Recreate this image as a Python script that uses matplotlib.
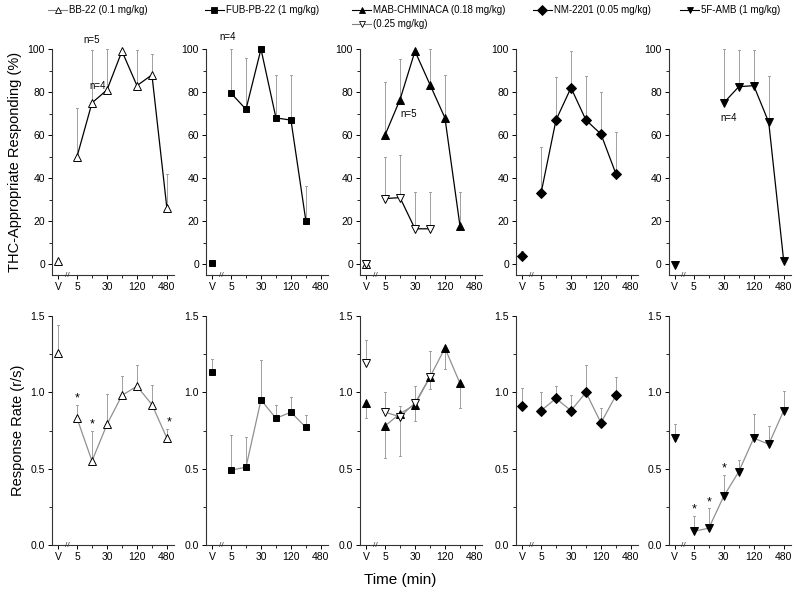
import matplotlib
matplotlib.use("Agg")
import matplotlib.pyplot as plt
from matplotlib.lines import Line2D
import matplotlib.transforms as mtransforms
import numpy as np

plt.rcParams['font.family'] = ['Liberation Sans', 'DejaVu Sans']

# x position of each time point (V is set off by a break)
xpos = {'V': -1.27, 5: 0, 15: 1, 30: 2, 60: 3, 120: 4, 240: 5, 480: 6}

drugs = ['BB-22 (0.1 mg/kg)', 'FUB-PB-22 (1 mg/kg)', 'MAB-CHMINACA (0.18 mg/kg)',
         'NM-2201 (0.05 mg/kg)', '5F-AMB (1 mg/kg)']

# ---- THC-appropriate responding (%) ----
bb_t = ['V', 5, 15, 30, 60, 120, 240, 480]
bb_thc = [1.5, 50, 75, 81, 99, 83, 88, 26]
bb_thc_err = [0, 22.5, 24.5, 19, 0, 16.5, 9.5, 16]

fub_t = ['V', 5, 15, 30, 60, 120, 240]
fub_thc = [0.5, 79.5, 72, 100, 68, 67, 20]
fub_thc_err = [0, 20.5, 24, 0, 20, 21, 16.5]

mab_t = ['V', 5, 15, 30, 60, 120, 240]
mab_thc = [0, 60, 76.5, 99, 83.5, 68, 18]
mab_thc_err = [0, 24.5, 19, 0, 16.5, 20, 15.5]

mab2_t = ['V', 5, 15, 30, 60]
mab2_thc = [0, 30.5, 31, 16.5, 16.5]
mab2_thc_err = [0, 19.5, 20, 17, 17]

nm_t = ['V', 5, 15, 30, 60, 120, 240]
nm_thc = [4, 33, 67, 82, 67, 60.5, 42]
nm_thc_err = [2, 21.5, 20, 17, 20.5, 19.5, 19.5]

amb_thc_t = ['V', 30, 60, 120, 240, 480]
amb_thc = [-0.5, 75, 82.5, 83, 66, 1.5]
amb_thc_err = [0, 25, 17, 16.5, 21.5, 0]

# ---- response rate (r/s) ----
bb_rr = [1.26, 0.83, 0.55, 0.79, 0.98, 1.04, 0.92, 0.70]
bb_rr_err = [0.18, 0.09, 0.20, 0.20, 0.13, 0.14, 0.13, 0.06]
bb_star = [5, 15, 480]

fub_rr = [1.13, 0.49, 0.51, 0.95, 0.83, 0.87, 0.77]
fub_rr_err = [0.09, 0.23, 0.20, 0.26, 0.09, 0.10, 0.08]

mab_rr = [0.93, 0.78, 0.86, 0.92, 1.10, 1.29, 1.06]
mab_rr_err = [-0.10, -0.21, 0.05, -0.11, -0.08, -0.14, -0.16]

mab2_rr = [1.19, 0.87, 0.84, 0.93, 1.10]
mab2_rr_err = [0.15, 0.13, -0.26, 0.11, 0.17]

nm_rr = [0.91, 0.88, 0.96, 0.88, 1.00, 0.80, 0.98]
nm_rr_err = [0.12, 0.12, 0.08, 0.10, 0.18, 0.10, 0.12]

amb_rr_t = ['V', 5, 15, 30, 60, 120, 240, 480]
amb_rr = [0.70, 0.09, 0.11, 0.32, 0.48, 0.70, 0.66, 0.88]
amb_rr_err = [0.09, 0.10, 0.13, 0.14, 0.08, 0.16, 0.12, 0.13]
amb_star = [5, 15, 30]

top = [[(bb_t, bb_thc, bb_thc_err, '^', False)],
       [(fub_t, fub_thc, fub_thc_err, 's', True)],
       [(mab_t, mab_thc, mab_thc_err, '^', True), (mab2_t, mab2_thc, mab2_thc_err, 'v', False)],
       [(nm_t, nm_thc, nm_thc_err, 'D', True)],
       [(amb_thc_t, amb_thc, amb_thc_err, 'v', True)]]
bottom = [[(bb_t, bb_rr, bb_rr_err, '^', False)],
          [(fub_t, fub_rr, fub_rr_err, 's', True)],
          [(mab_t, mab_rr, mab_rr_err, '^', True), (mab2_t, mab2_rr, mab2_rr_err, 'v', False)],
          [(nm_t, nm_rr, nm_rr_err, 'D', True)],
          [(amb_rr_t, amb_rr, amb_rr_err, 'v', True)]]
stars = {0: (bb_star, bb_rr_err, bb_rr, bb_t), 4: (amb_star, amb_rr_err, amb_rr, amb_rr_t)}

n_labels = {0: [(1.0, 104, 'n=5'), (1.35, 83, 'n=4')], 1: [(-0.25, 105.5, 'n=4')],
            2: [(1.6, 70, 'n=5')], 4: [(2.3, 68, 'n=4')]}

msize = {'^': 6.0, 'v': 6.0, 's': 5.0, 'D': 5.5}

fig = plt.figure(figsize=(8, 5.98), dpi=100)
lefts = [0.065, 0.2575, 0.45, 0.645, 0.836]
w = 0.153
ecol = '#a0a0a0'


def draw(ax, series, linecol, first_v_open=False):
    for k, (t, y, e, m, fill) in enumerate(series):
        x = np.array([xpos[v] for v in t])
        y = np.array(y, dtype=float)
        e = np.array(e, dtype=float)
        fc = 'black' if fill else 'white'
        ms = msize[m]
        # error bars (one-sided)
        for xi, yi, ei in zip(x, y, e):
            if ei != 0:
                ax.plot([xi, xi], [yi, yi + ei], color=ecol, lw=0.7, zorder=1, clip_on=False)
                ax.plot([xi - 0.08, xi + 0.08], [yi + ei, yi + ei], color=ecol, lw=0.7, zorder=1, clip_on=False)
        ax.plot(x[1:], y[1:], color=linecol, lw=0.9, zorder=2, clip_on=False)
        ax.plot(x[1:], y[1:], ls='none', marker=m, ms=ms, mfc=fc, mec='black', mew=0.7,
                zorder=3, clip_on=False)
        vfc = 'white' if (first_v_open and k == 0) else fc
        ax.plot(x[:1], y[:1], ls='none', marker=m, ms=ms, mfc=vfc, mec='black', mew=0.7,
                zorder=3 + k, clip_on=False)


def style(ax):
    for s in ['top', 'right']:
        ax.spines[s].set_visible(False)
    for s in ['left', 'bottom']:
        ax.spines[s].set_color('#333333')
        ax.spines[s].set_linewidth(0.8)
    ax.set_xlim(-1.67, 6.5)
    ax.set_xticks([xpos['V'], 0, 2, 4, 6])
    ax.set_xticklabels(['V', '5', '30', '120', '480'])
    ax.set_xticks([1, 3, 5], minor=True)
    ax.tick_params(axis='both', labelsize=7.5, length=3, width=0.7, direction='out', pad=2)
    ax.tick_params(axis='both', which='minor', length=2, width=0.6)
    tr = mtransforms.blended_transform_factory(ax.transData, ax.transAxes)
    ax.text(-0.67, 0.0, '//', transform=tr, ha='center', va='center', fontsize=6,
            color='#333333', clip_on=False)


for i in range(5):
    ax = fig.add_axes([lefts[i], 0.54, w, 0.378])
    draw(ax, top[i], 'black', first_v_open=(i == 2))
    style(ax)
    ax.set_ylim(-5, 100)
    ax.set_yticks([0, 20, 40, 60, 80, 100])
    ax.set_yticks(np.arange(10, 100, 20), minor=True)
    for (tx, ty, s) in n_labels.get(i, []):
        ax.text(tx, ty, s, fontsize=7, ha='center', va='center')
    if i == 0:
        ax.set_ylabel('THC-Appropriate Responding (%)', fontsize=10.5, labelpad=4)

    ax2 = fig.add_axes([lefts[i], 0.0886, w, 0.383])
    draw(ax2, bottom[i], '#909090')
    style(ax2)
    ax2.set_ylim(0, 1.5)
    ax2.set_yticks([0, 0.5, 1.0, 1.5])
    ax2.set_yticklabels(['0.0', '0.5', '1.0', '1.5'])
    ax2.set_yticks([0.25, 0.75, 1.25], minor=True)
    if i in stars:
        st, err, vals, tt = stars[i]
        for s in st:
            j = tt.index(s)
            ax2.text(xpos[s] + (0.15 if s == 480 else 0), vals[j] + err[j] + 0.04, '*',
                     fontsize=9, ha='center', va='center')
    if i == 0:
        ax2.set_ylabel('Response Rate (r/s)', fontsize=10.5, labelpad=4)

fig.text(0.5, 0.03, 'Time (min)', fontsize=11, ha='center', va='center')

# legend along the top
leg = [(0.06, 0.983, '^', False, drugs[0]),
       (0.256, 0.983, 's', True, drugs[1]),
       (0.44, 0.983, '^', True, drugs[2]),
       (0.44, 0.96, 'v', False, '(0.25 mg/kg)'),
       (0.666, 0.983, 'D', True, drugs[3]),
       (0.85, 0.983, 'v', True, drugs[4])]
for (lx, ly, m, fill, label) in leg:
    fig.add_artist(Line2D([lx, lx + 0.024], [ly, ly], transform=fig.transFigure,
                          color='black' if fill else '#808080', lw=0.8))
    fig.add_artist(Line2D([lx + 0.012], [ly], transform=fig.transFigure, marker=m, ms=5,
                          mfc='black' if fill else 'white', mec='black', mew=0.6))
    fig.text(lx + 0.026, ly, label, fontsize=7, ha='left', va='center')

fig.savefig('out.png', dpi=100)
